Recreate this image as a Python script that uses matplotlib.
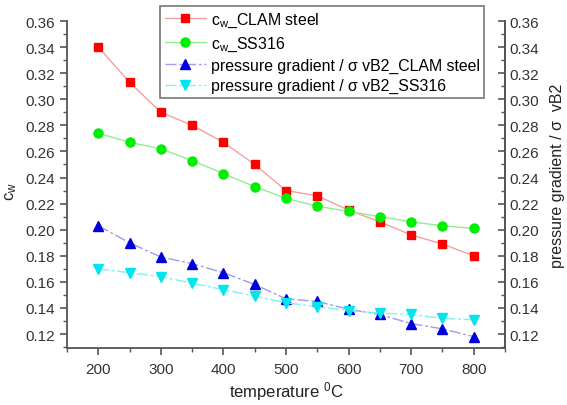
import matplotlib
matplotlib.use("Agg")
import matplotlib.pyplot as plt
from matplotlib.ticker import MultipleLocator

plt.rcParams['font.family'] = ['Liberation Sans', 'DejaVu Sans']
plt.rcParams['mathtext.fontset'] = 'custom'
plt.rcParams['mathtext.rm'] = 'Liberation Sans'
plt.rcParams['mathtext.it'] = 'Liberation Sans'

temperature = [200, 250, 300, 350, 400, 450, 500, 550, 600, 650, 700, 750, 800]
cw_clam = [0.340, 0.313, 0.290, 0.280, 0.267, 0.250, 0.230, 0.226, 0.215, 0.206, 0.196, 0.189, 0.180]
cw_ss316 = [0.274, 0.267, 0.262, 0.253, 0.243, 0.233, 0.224, 0.218, 0.214, 0.210, 0.206, 0.203, 0.201]
pg_clam = [0.203, 0.190, 0.179, 0.174, 0.167, 0.158, 0.147, 0.145, 0.139, 0.135, 0.128, 0.124, 0.118]
pg_ss316 = [0.170, 0.167, 0.164, 0.159, 0.154, 0.149, 0.144, 0.141, 0.138, 0.136, 0.135, 0.132, 0.131]

labels = [r'c$_\mathrm{w}$_CLAM steel', r'c$_\mathrm{w}$_SS316',
          'pressure gradient / σ vB2_CLAM steel', 'pressure gradient / σ vB2_SS316']

fig = plt.figure(figsize=(5.67, 4.06), dpi=100)
ax = fig.add_axes([67/567, 1-349/406, (505-67)/567, (349-22)/406])

ax.plot(temperature, cw_clam, color='#f4a0a0', lw=1, marker='s', ms=6,
        mfc='#ff0000', mec='#ff0000', label=labels[0])
ax.plot(temperature, cw_ss316, color='#90ee90', lw=1, marker='o', ms=6.5,
        mfc='#00ee00', mec='#00ee00', label=labels[1])
ax.plot(temperature, pg_clam, color='#9c9cf0', lw=1, marker='^', ms=7,
        mfc='#0000dd', mec='#0000dd', dashes=(8, 2, 2, 2), label=labels[2])
ax.plot(temperature, pg_ss316, color='#80f0f0', lw=1, marker='v', ms=7,
        mfc='#00e5ee', mec='#00e5ee', dashes=(8, 2, 2, 2), label=labels[3])

ax.set_xlim(150, 850)
ax.set_ylim(0.1093, 0.36)
ax.xaxis.set_major_locator(MultipleLocator(100))
ax.xaxis.set_minor_locator(MultipleLocator(50))
ax.yaxis.set_major_locator(MultipleLocator(0.02))
ax.yaxis.set_minor_locator(MultipleLocator(0.01))
ax.yaxis.set_major_formatter(matplotlib.ticker.FormatStrFormatter('%.2f'))
ax.spines['top'].set_visible(False)
for s in ['left', 'bottom', 'right']:
    ax.spines[s].set_color('#555555')
    ax.spines[s].set_linewidth(1.3)
ax.tick_params(axis='both', which='both', direction='out', colors='#555555', labelcolor='#333333', labelsize=11)
ax.tick_params(axis='both', which='major', length=5, width=1.2)
ax.tick_params(axis='both', which='minor', length=3, width=1)
ax.tick_params(axis='x', which='major', pad=5)

ax2 = ax.twinx()
ax2.set_ylim(ax.get_ylim())
ax2.yaxis.set_major_locator(MultipleLocator(0.02))
ax2.yaxis.set_minor_locator(MultipleLocator(0.01))
ax2.yaxis.set_major_formatter(matplotlib.ticker.FormatStrFormatter('%.2f'))
for s in ['top', 'left', 'bottom']:
    ax2.spines[s].set_visible(False)
ax2.spines['right'].set_color('#555555')
ax2.spines['right'].set_linewidth(1.3)
ax2.tick_params(axis='y', which='both', direction='in', colors='#555555', labelcolor='#333333', labelsize=11, pad=3)
ax2.tick_params(axis='y', which='major', length=5, width=1.2)
ax2.tick_params(axis='y', which='minor', length=3, width=1)

ax.set_xlabel(r'temperature $^\mathrm{0}$C', fontsize=12, color='#222222')
ax.set_ylabel(r'c$_\mathrm{w}$', fontsize=12, color='#222222')
ax2.set_ylabel('pressure gradient / σ  vB2', fontsize=11.5, color='#222222')
ax.xaxis.set_label_coords(0.5, -0.095)
ax.yaxis.set_label_coords(-0.11, 0.48)
ax2.yaxis.set_label_coords(1.103, 0.53)

leg = ax.legend(loc='upper left', bbox_to_anchor=((160-67)/438, 1+15/327), fontsize=11.4,
                frameon=True, fancybox=False, borderpad=0.3, handlelength=2.6,
                handletextpad=0.3, labelspacing=0.33, borderaxespad=0)
leg.get_frame().set_edgecolor('#555555')
leg.get_frame().set_linewidth(1.2)
leg.set_zorder(10)

fig.savefig('out.png', dpi=100)
